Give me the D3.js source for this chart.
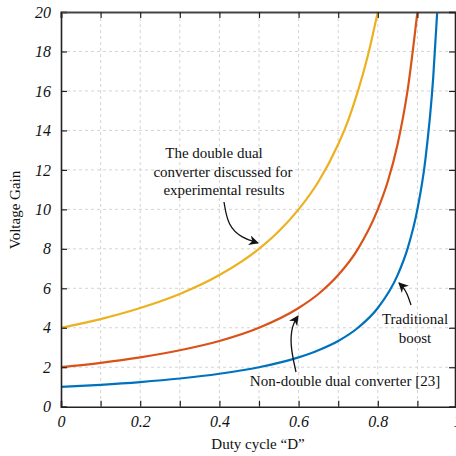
<!DOCTYPE html>
<html>
<head>
<meta charset="utf-8">
<script src="https://cdn.jsdelivr.net/npm/d3@7"></script>
<style>
  html, body { margin: 0; padding: 0; background: #fff; }
  svg { display: block; }
</style>
</head>
<body>
<svg id="chart" width="456" height="456"></svg>
<script>
// Duty cycle samples and voltage gain for each topology
const dutyBoost = [0, 0.1, 0.2, 0.3, 0.4, 0.5, 0.6, 0.65, 0.7, 0.75, 0.8, 0.85, 0.875, 0.9, 0.92, 0.94, 0.95];
const gainBoost = [1, 1.11, 1.25, 1.43, 1.67, 2, 2.5, 2.86, 3.33, 4, 5, 6.67, 8, 10, 12.5, 16.7, 20];

const dutyNonDouble = [0, 0.1, 0.2, 0.3, 0.4, 0.5, 0.6, 0.65, 0.7, 0.75, 0.8, 0.825, 0.85, 0.875, 0.9];
const gainNonDouble = [2, 2.22, 2.5, 2.86, 3.33, 4, 5, 5.71, 6.67, 8, 10, 11.4, 13.3, 16, 20];

const dutyDouble = [0, 0.1, 0.2, 0.3, 0.4, 0.5, 0.55, 0.6, 0.65, 0.7, 0.725, 0.75, 0.775, 0.8];
const gainDouble = [4, 4.44, 5, 5.71, 6.67, 8, 8.89, 10, 11.4, 13.3, 14.5, 16, 17.8, 20];

const xTickValues = [0, 0.1, 0.2, 0.3, 0.4, 0.5, 0.6, 0.7, 0.8, 0.9, 1];
const xTickLabels = ["0", "", "0.2", "", "0.4", "", "0.6", "", "0.8", "", "1"];
const yTickValues = [0, 2, 4, 6, 8, 10, 12, 14, 16, 18, 20];

const seriesColors = ["#0072BD", "#D95319", "#EDB120"];
const SERIF = '"Liberation Serif"';

const svg = d3.select("#chart");
const m = { left: 61, right: 457, top: 12, bottom: 406.7 };

const x = d3.scaleLinear().domain([0, 1]).range([m.left, m.right]);
const y = d3.scaleLinear().domain([0, 20]).range([m.bottom, m.top]);

// dashed grid
const grid = svg.append("g");
grid.selectAll("line.gx").data(xTickValues.slice(1, -1)).join("line")
  .attr("x1", d => x(d)).attr("x2", d => x(d))
  .attr("y1", m.top).attr("y2", m.bottom)
  .attr("stroke", "#d4d4d4").attr("stroke-width", 1).attr("stroke-dasharray", "3,3");
grid.selectAll("line.gy").data(yTickValues.slice(1, -1)).join("line")
  .attr("x1", m.left).attr("x2", m.right)
  .attr("y1", d => y(d)).attr("y2", d => y(d))
  .attr("stroke", "#d4d4d4").attr("stroke-width", 1).attr("stroke-dasharray", "3,3");

// curves
const line = d3.line().x(d => x(d[0])).y(d => y(d[1])).curve(d3.curveMonotoneX);
const series = [
  d3.zip(dutyBoost, gainBoost),
  d3.zip(dutyNonDouble, gainNonDouble),
  d3.zip(dutyDouble, gainDouble)
];
svg.append("g").selectAll("path").data(series).join("path")
  .attr("d", line)
  .attr("fill", "none")
  .attr("stroke", (d, i) => seriesColors[i])
  .attr("stroke-width", 2.2);

// axes with inward ticks
const axisStyle = g => {
  g.attr("font-family", null);
  g.select(".domain").attr("stroke", "#222").attr("stroke-width", 1.6);
  g.selectAll(".tick line").attr("stroke", "#222").attr("stroke-width", 1.2);
};
const tickText = g => g.selectAll("text")
  .style("font-family", SERIF).style("font-style", "italic")
  .style("font-size", "16px").attr("fill", "#111");

svg.append("g").attr("transform", `translate(0,${m.bottom})`)
  .call(d3.axisBottom(x).tickValues(xTickValues).tickSize(-6).tickPadding(9)
    .tickFormat((d, i) => xTickLabels[i]))
  .call(axisStyle).call(tickText);
svg.append("g").attr("transform", `translate(${m.left},0)`)
  .call(d3.axisLeft(y).tickValues(yTickValues).tickSize(-6).tickPadding(10))
  .call(axisStyle).call(tickText);
svg.append("g").attr("transform", `translate(0,${m.top})`)
  .call(d3.axisTop(x).tickValues(xTickValues).tickSize(-6).tickFormat(""))
  .call(axisStyle)
  .call(g => g.select(".domain").attr("stroke", "#444").attr("stroke-width", 2));
svg.append("g").attr("transform", `translate(${m.right - 2},0)`)
  .call(d3.axisRight(y).tickValues(yTickValues).tickSize(-6).tickFormat(""))
  .call(axisStyle);

// axis titles
const label = sel => sel.style("font-family", SERIF).style("font-size", "15px").attr("fill", "#111");
svg.append("text").attr("x", 258).attr("y", 449).attr("text-anchor", "middle")
  .call(label).text("Duty cycle “D”");
svg.append("text").attr("transform", "translate(20,210) rotate(-90)")
  .attr("text-anchor", "middle").call(label).text("Voltage Gain");

// annotations
const defs = svg.append("defs");
defs.append("marker").attr("id", "arrow").attr("viewBox", "0 0 10 10")
  .attr("refX", 9).attr("refY", 5).attr("markerWidth", 10).attr("markerHeight", 10)
  .attr("markerUnits", "userSpaceOnUse").attr("orient", "auto")
  .append("path").attr("d", "M0,0 L10,5 L0,10 L3,5 Z").attr("fill", "#111");

const note = (lines, cx, baseline, step) => {
  lines.forEach((s, i) => svg.append("text").attr("text-anchor", "middle").call(label)
    .attr("x", cx[i]).attr("y", baseline + i * step).text(s));
};
note(["The double dual", "converter discussed for", "experimental results"], [214, 223, 224], 158, 18.5);
note(["Traditional", "boost"], [415, 415], 324, 18.5);
note(["Non-double dual converter [23]"], [345], 386, 0);

const arrowPath = (pts) => svg.append("path")
  .attr("d", d3.line().curve(d3.curveBasis)(pts))
  .attr("fill", "none").attr("stroke", "#111").attr("stroke-width", 1.3)
  .attr("marker-end", "url(#arrow)");
arrowPath([[224, 202], [228, 226], [242, 238], [258, 243]]);
arrowPath([[296, 372], [290, 345], [292, 325], [298, 316]]);
arrowPath([[411, 305], [407, 293], [403, 287], [399, 283]]);
</script>
</body>
</html>
